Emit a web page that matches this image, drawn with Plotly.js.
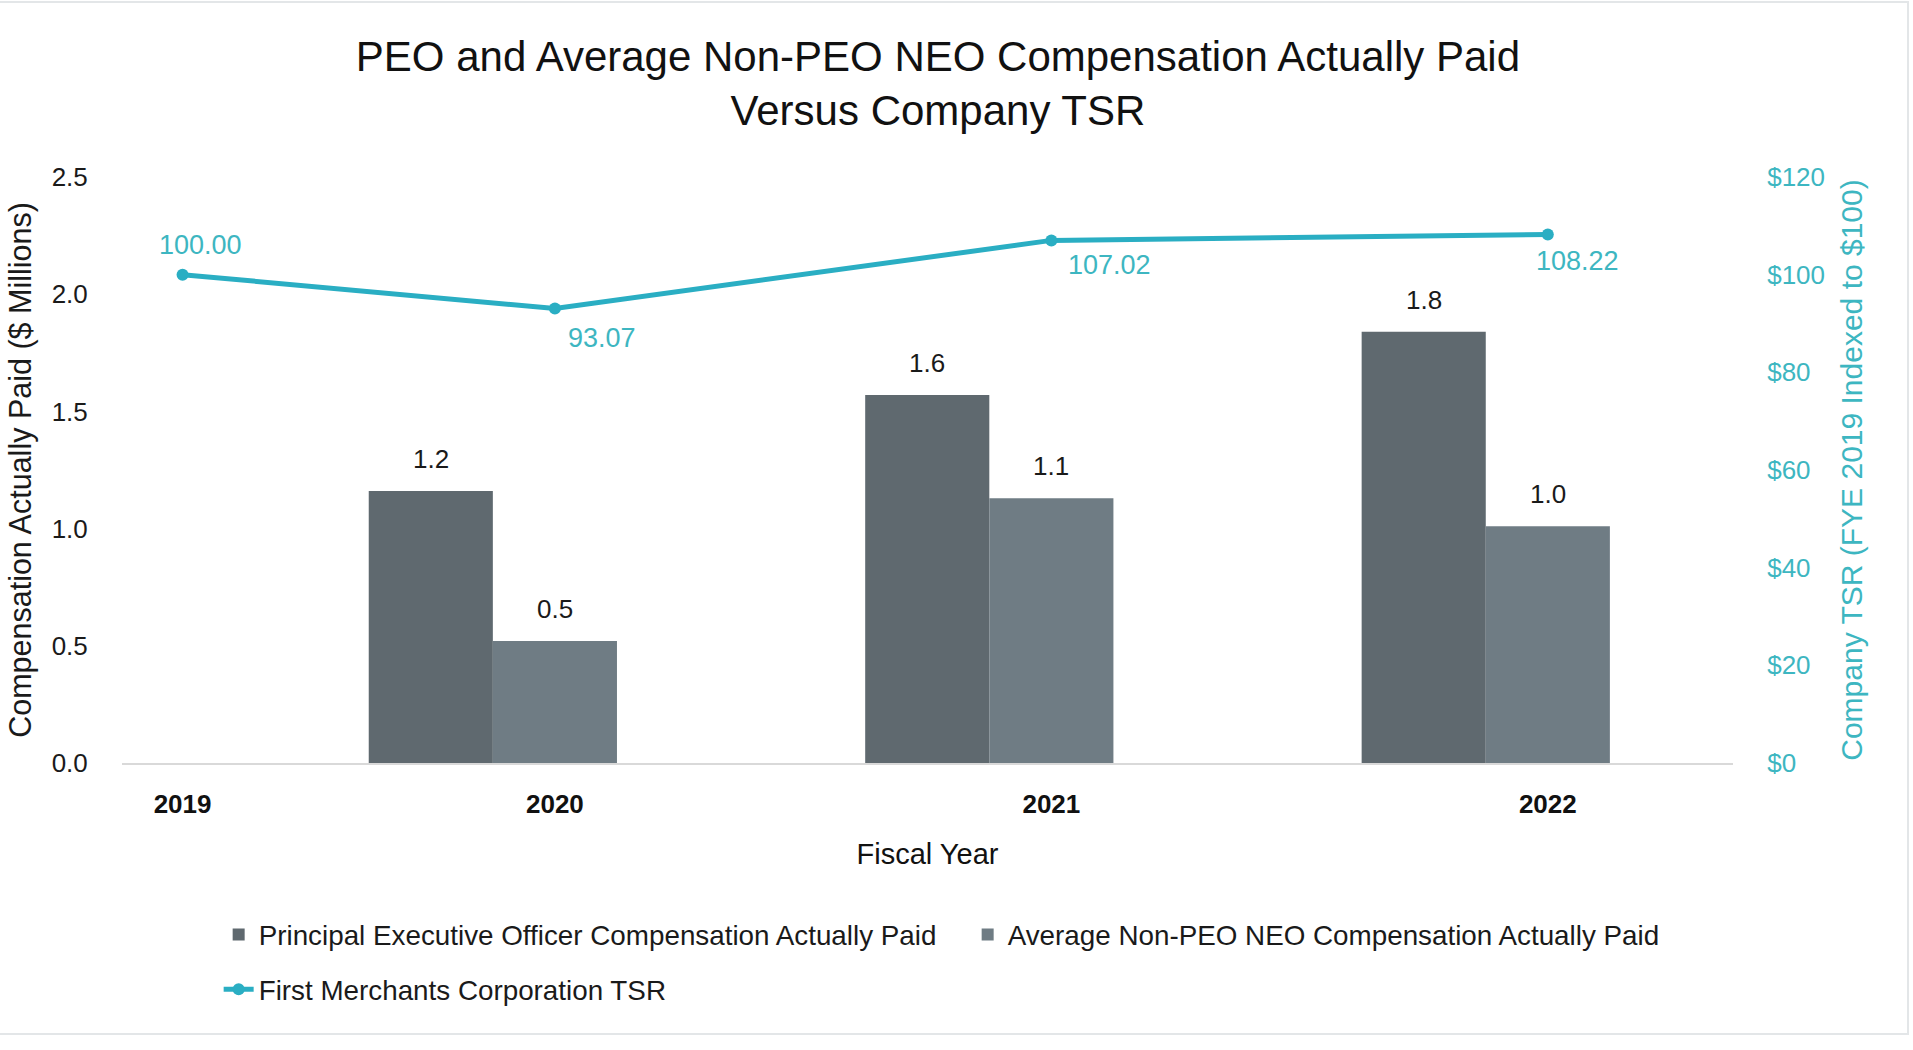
<!DOCTYPE html>
<html>
<head>
<meta charset="utf-8">
<script src="https://cdn.plot.ly/plotly-3.0.1.min.js"></script>
<style>
  html, body { margin: 0; padding: 0; background: #ffffff; }
  #wrap { position: relative; width: 1913px; height: 1050px; }
  #chart { width: 1913px; height: 1050px; }
  #frame { position: absolute; left: 0; top: 1px; width: 1907px; height: 1030px;
           border: 2px solid #e3e6e8; border-left: none; pointer-events: none; }
</style>
</head>
<body>
<div id="wrap">
  <div id="chart"></div>
  <div id="frame"></div>
</div>
<script>
// ---------------- data ----------------
const tsrYears   = [2019, 2020, 2021, 2022];
const barYears   = [2020, 2021, 2022];
const peoCAP     = [1.16, 1.57, 1.84];   // $ millions
const neoCAP     = [0.52, 1.13, 1.01];   // $ millions
const tsrValues  = [100.00, 93.07, 107.02, 108.22];
const yearLabels = ['2019', '2020', '2021', '2022'];

const peoName = 'Principal Executive Officer Compensation Actually Paid';
const neoName = 'Average Non-PEO NEO Compensation Actually Paid';
const tsrName = 'First Merchants Corporation TSR';

// ---------------- styling / layout helpers ----------------
const FONT = 'Liberation Sans, Arial, Helvetica, sans-serif';
const PEO_COLOR = '#5f696f';
const NEO_COLOR = '#6f7c84';
const TSR_COLOR = '#2aaec3';
const TSR_TEXT  = '#3db6c1';

// the base year sits closer to the first bar group in the original chart
const baseYearInset = 0.25;
const xOf = yr => (yr === tsrYears[0] ? yr + baseYearInset : yr);

const barWidth  = 0.25;
const peoOffset = -1.5 * barWidth;
const neoOffset = -0.5 * barWidth;

// label offsets (px) for the TSR values, as placed in the original
const tsrShiftX = [18, 47, 58, 30];
const tsrShiftY = [30, -29, -25, -26];

const traces = [
  {
    type: 'bar', name: peoName,
    x: barYears.map(xOf), y: peoCAP,
    width: barWidth, offset: peoOffset,
    marker: { color: PEO_COLOR },
    legend: 'legend', hoverinfo: 'y+name'
  },
  {
    type: 'bar', name: neoName,
    x: barYears.map(xOf), y: neoCAP,
    width: barWidth, offset: neoOffset,
    marker: { color: NEO_COLOR },
    legend: 'legend', hoverinfo: 'y+name'
  },
  {
    type: 'scatter', mode: 'lines+markers', name: tsrName,
    x: tsrYears.map(xOf), y: tsrValues, yaxis: 'y2',
    line: { color: TSR_COLOR, width: 5 },
    marker: { color: TSR_COLOR, size: 12 },
    legend: 'legend2', hoverinfo: 'y+name', cliponaxis: false
  }
];

const annotations = [];
barYears.forEach((yr, i) => {
  annotations.push({
    xref: 'x', yref: 'y', x: xOf(yr) + peoOffset + barWidth / 2, y: peoCAP[i],
    text: peoCAP[i].toFixed(1), showarrow: false, yanchor: 'middle', yshift: 32,
    font: { family: FONT, size: 26, color: '#1a1a1a' }
  });
  annotations.push({
    xref: 'x', yref: 'y', x: xOf(yr) + neoOffset + barWidth / 2, y: neoCAP[i],
    text: neoCAP[i].toFixed(1), showarrow: false, yanchor: 'middle', yshift: 32,
    font: { family: FONT, size: 26, color: '#1a1a1a' }
  });
});
tsrYears.forEach((yr, i) => {
  annotations.push({
    xref: 'x', yref: 'y2', x: xOf(yr), y: tsrValues[i],
    text: tsrValues[i].toFixed(2), showarrow: false,
    xanchor: 'center', yanchor: 'middle',
    xshift: tsrShiftX[i], yshift: tsrShiftY[i],
    font: { family: FONT, size: 27, color: TSR_TEXT }
  });
});

const layout = {
  width: 1913, height: 1050,
  paper_bgcolor: '#ffffff', plot_bgcolor: '#ffffff',
  margin: { l: 122, r: 180, t: 177, b: 287, pad: 0 },
  font: { family: FONT, size: 26, color: '#1a1a1a' },
  title: {
    text: 'PEO and Average Non-PEO NEO Compensation Actually Paid<br>Versus Company TSR',
    x: 0.4903, xanchor: 'center', xref: 'container',
    y: 0.9325, yanchor: 'top', yref: 'container',
    font: { family: FONT, size: 42, color: '#111111' }
  },
  barmode: 'overlay',
  showlegend: true,
  xaxis: {
    range: [2019.128, 2022.373],
    tickmode: 'array',
    tickvals: tsrYears.map(xOf),
    ticktext: yearLabels.map(t => '<b>' + t + '</b>'),
    tickfont: { family: FONT, size: 26, color: '#111111' },
    ticks: 'outside', ticklen: 17, tickcolor: 'rgba(0,0,0,0)',
    showgrid: false, zeroline: false,
    showline: true, linecolor: '#d9d9d9', linewidth: 2,
    title: { text: 'Fiscal Year', standoff: 25,
             font: { family: FONT, size: 29, color: '#111111' } },
    fixedrange: true
  },
  yaxis: {
    range: [0, 2.5], dtick: 0.5, tickformat: '.1f',
    tickfont: { family: FONT, size: 26, color: '#1a1a1a' },
    ticks: 'outside', ticklen: 28, tickcolor: 'rgba(0,0,0,0)',
    showgrid: false, zeroline: false, showline: false,
    title: { text: 'Compensation Actually Paid ($ Millions)', standoff: 10,
             font: { family: FONT, size: 30.5, color: '#1a1a1a' } },
    fixedrange: true
  },
  yaxis2: {
    overlaying: 'y', side: 'right',
    range: [0, 120], dtick: 20, tickprefix: '$',
    tickfont: { family: FONT, size: 26, color: TSR_TEXT },
    ticks: 'outside', ticklen: 28, tickcolor: 'rgba(0,0,0,0)',
    showgrid: false, zeroline: false, showline: false,
    title: { text: 'Company TSR (FYE 2019 Indexed to $100)', standoff: 16,
             font: { family: FONT, size: 30, color: TSR_TEXT } },
    fixedrange: true
  },
  legend: {
    orientation: 'h', x: 0.060, xanchor: 'left', y: -0.2935, yanchor: 'middle',
    font: { family: FONT, size: 27.8, color: '#1a1a1a' },
    bgcolor: 'rgba(0,0,0,0)', traceorder: 'normal',
    entrywidth: 704, entrywidthmode: 'pixels'
  },
  legend2: {
    orientation: 'h', x: 0.060, xanchor: 'left', y: -0.387, yanchor: 'middle',
    font: { family: FONT, size: 27.8, color: '#1a1a1a' },
    bgcolor: 'rgba(0,0,0,0)'
  },
  annotations: annotations
};

Plotly.newPlot('chart', traces, layout, { displayModeBar: false, staticPlot: true });
</script>
</body>
</html>
